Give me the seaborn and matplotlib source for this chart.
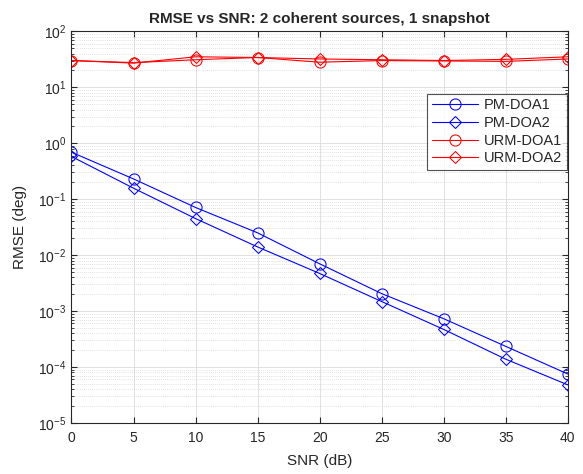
import matplotlib
matplotlib.use("Agg")
import matplotlib.pyplot as plt
import seaborn as sns
import numpy as np
import pandas as pd
from matplotlib.ticker import LogLocator, NullFormatter

snr = [0, 5, 10, 15, 20, 25, 30, 35, 40]
pm_doa1 = [0.69, 0.23, 0.071, 0.025, 0.0070, 0.00205, 0.00073, 0.000234, 0.000075]
pm_doa2 = [0.58, 0.157, 0.045, 0.014, 0.0047, 0.00148, 0.00047, 0.000138, 0.000048]
urm_doa1 = [30, 27.5, 31, 34, 28, 30, 29.5, 29, 32]
urm_doa2 = [30, 27, 35, 34, 32, 31, 30, 31.5, 35]
labels = ["PM-DOA1", "PM-DOA2", "URM-DOA1", "URM-DOA2"]

sns.set_style("ticks")
plt.rcParams['font.family'] = ['Liberation Sans', 'DejaVu Sans']

fig = plt.figure(figsize=(5.83, 4.74), dpi=100)
ax = fig.add_axes([0.1226, 0.1076, 0.974 - 0.1226, 0.934 - 0.1076])

series = [(pm_doa1, "o", "#0000ff"), (pm_doa2, "D", "#0000ff"),
          (urm_doa1, "o", "#ff0000"), (urm_doa2, "D", "#ff0000")]
for (vals, mk, col), lab in zip(series, labels):
    df = pd.DataFrame({"SNR": snr, "RMSE": vals})
    sns.lineplot(data=df, x="SNR", y="RMSE", ax=ax, color=col, marker=mk,
                 markersize=8 if mk == "o" else 6, markerfacecolor="none",
                 markeredgecolor=col, markeredgewidth=0.75, linewidth=0.8,
                 label=lab, legend=False)

ax.set_yscale("log")
ax.set_xlim(0, 40)
ax.set_ylim(1e-5, 1e2)
ax.set_xticks(snr)
ax.yaxis.set_major_locator(LogLocator(base=10, numticks=20))
ax.yaxis.set_minor_locator(LogLocator(base=10, subs=np.arange(2, 10), numticks=100))
ax.yaxis.set_minor_formatter(NullFormatter())

ax.grid(True, which="major", color="#dcdcdc", linestyle="-", linewidth=0.6)
ax.grid(True, which="minor", axis="y", color="#c8c8c8", linestyle=(0, (1, 2)), linewidth=0.5)
ax.set_axisbelow(True)

ax.tick_params(which="both", direction="in", top=True, right=True, labelsize=10, colors="#262626")
ax.tick_params(which="major", length=4)
ax.tick_params(which="minor", length=2)
ax.tick_params(axis="x", pad=6)
for s in ax.spines.values():
    s.set_color("#262626")
    s.set_linewidth(0.8)

ax.set_xlabel("SNR (dB)", fontsize=11, color="#262626", labelpad=6)
ax.set_ylabel("RMSE (deg)", fontsize=11, color="#262626", labelpad=8)
ax.set_title("RMSE vs SNR: 2 coherent sources, 1 snapshot", fontsize=11, fontweight="bold", pad=6)

leg = ax.legend(loc="upper right", bbox_to_anchor=(0.998, 0.84), fontsize=10.5,
                frameon=True, fancybox=False, borderpad=0.3, labelspacing=0.25,
                handlelength=3.2, handletextpad=0.4, borderaxespad=0)
leg.get_frame().set_edgecolor("#262626")
leg.get_frame().set_linewidth(0.8)

fig.savefig("out.png", dpi=100)
